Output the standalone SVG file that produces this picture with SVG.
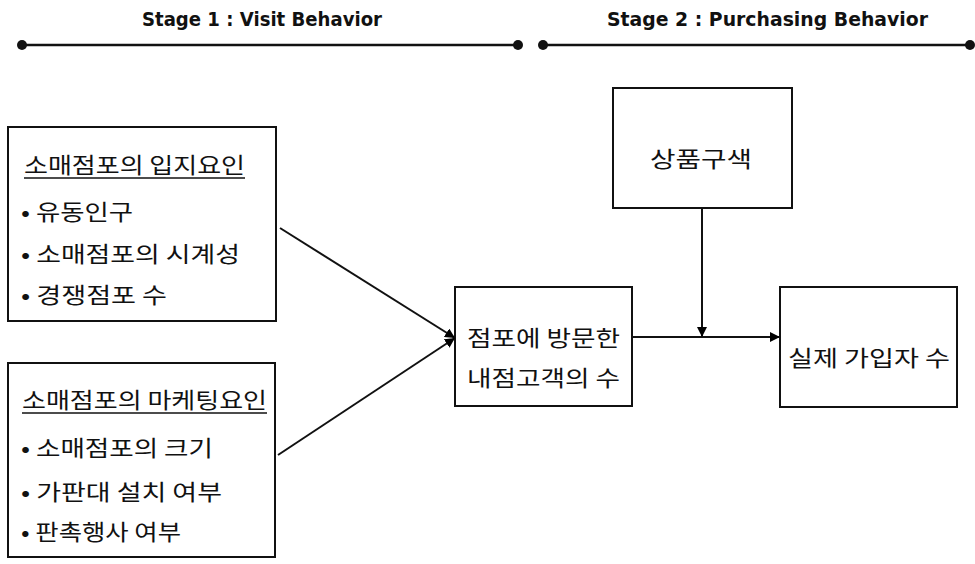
<svg xmlns="http://www.w3.org/2000/svg" width="975" height="564" viewBox="0 0 975 564">
<defs>
<marker id="ah" viewBox="0 0 10 10" refX="10" refY="5" markerWidth="5" markerHeight="5" orient="auto" markerUnits="strokeWidth">
<path d="M0,0 L10,5 L0,10 z" fill="#000"/>
</marker>
<style>
.box{fill:#fff;stroke:#111;stroke-width:2}
.t{font-family:"Noto Sans CJK KR","Noto Sans",sans-serif;font-size:22px;font-weight:normal;fill:#111}
.st{font-family:"DejaVu Sans",sans-serif;font-weight:bold;font-size:20px;fill:#111}
.ul{stroke:#111;stroke-width:1.5}
.c{stroke:#111;stroke-width:2;fill:none}
.stage{stroke:#111;stroke-width:2.5}
</style>
</defs>
<rect width="975" height="564" fill="#fff"/>
<g id="stage1">
<text class="st" x="142" y="26" textLength="240" lengthAdjust="spacingAndGlyphs">Stage 1 : Visit Behavior</text>
<line class="stage" x1="22" y1="45" x2="518" y2="45"/>
<circle cx="22" cy="45" r="5" fill="#111"/>
<circle cx="518" cy="45" r="5" fill="#111"/>
</g>
<g id="stage2">
<text class="st" x="607" y="26" textLength="321" lengthAdjust="spacingAndGlyphs">Stage 2 : Purchasing Behavior</text>
<line class="stage" x1="543" y1="45" x2="970" y2="45"/>
<circle cx="543" cy="45" r="5" fill="#111"/>
<circle cx="970" cy="45" r="5" fill="#111"/>
</g>
<g id="location">
<rect class="box" x="8" y="127" width="268" height="194"/>
<text class="t" x="24" y="173" textLength="221" lengthAdjust="spacingAndGlyphs">소매점포의 입지요인</text>
<line class="ul" x1="24" y1="178" x2="245" y2="178"/>
<text class="t" x="21" y="220" textLength="112" lengthAdjust="spacingAndGlyphs">• 유동인구</text>
<text class="t" x="21" y="262" textLength="219" lengthAdjust="spacingAndGlyphs">• 소매점포의 시계성</text>
<text class="t" x="21" y="303" textLength="146" lengthAdjust="spacingAndGlyphs">• 경쟁점포 수</text>
</g>
<g id="marketing">
<rect class="box" x="8" y="363" width="267" height="194"/>
<text class="t" x="22" y="408" textLength="245" lengthAdjust="spacingAndGlyphs">소매점포의 마케팅요인</text>
<line class="ul" x1="22" y1="413" x2="267" y2="413"/>
<text class="t" x="21" y="456" textLength="192" lengthAdjust="spacingAndGlyphs">• 소매점포의 크기</text>
<text class="t" x="21" y="500" textLength="201" lengthAdjust="spacingAndGlyphs">• 가판대 설치 여부</text>
<text class="t" x="21" y="540" textLength="160" lengthAdjust="spacingAndGlyphs">• 판촉행사 여부</text>
</g>
<g id="visitors">
<rect class="box" x="455" y="287" width="177" height="119"/>
<text class="t" x="467" y="346" textLength="153" lengthAdjust="spacingAndGlyphs">점포에 방문한</text>
<text class="t" x="467" y="386" textLength="153" lengthAdjust="spacingAndGlyphs">내점고객의 수</text>
</g>
<g id="assortment">
<rect class="box" x="613" y="88" width="179" height="120"/>
<text class="t" x="650" y="167" textLength="102" lengthAdjust="spacingAndGlyphs">상품구색</text>
</g>
<g id="subscribers">
<rect class="box" x="780" y="287" width="177" height="120"/>
<text class="t" x="788" y="366" textLength="162" lengthAdjust="spacingAndGlyphs">실제 가입자 수</text>
</g>
<g id="connectors">
<line class="c" x1="280" y1="228" x2="455" y2="338" marker-end="url(#ah)"/>
<line class="c" x1="278" y1="455" x2="455" y2="338" marker-end="url(#ah)"/>
<line class="c" x1="632" y1="337" x2="780" y2="337" marker-end="url(#ah)"/>
<line class="c" x1="702" y1="208" x2="702" y2="337" marker-end="url(#ah)"/>
</g>
</svg>
